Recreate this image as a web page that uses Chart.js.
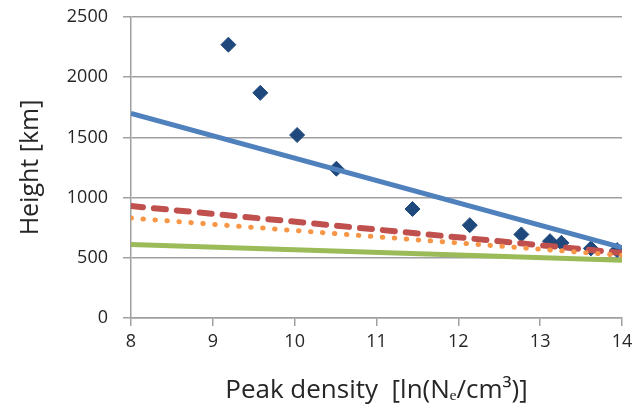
<!DOCTYPE html>
<html>
<head>
<meta charset="utf-8">
<script src="https://cdn.jsdelivr.net/npm/chart.js@4"></script>
<style>
  html, body { margin: 0; padding: 0; background: #fff; }
  #wrap { width: 636px; height: 410px; }
</style>
</head>
<body>
<div id="wrap"><canvas id="heightChart" width="636" height="410"></canvas></div>
<script>
// Measured points
const peakDensity = [9.19, 9.58, 10.03, 10.51, 11.44, 12.14, 12.77, 13.12, 13.26, 13.62, 13.94];
const heightKm = [2270, 1870, 1520, 1240, 905, 771, 694, 638, 624, 578, 564];

// Model lines (end points at x = 8 and x = 14)
const lineX = [8, 14];
const blueFit = [1700, 585];
const redDashed = [930, 540];
const orangeDotted = [830, 520];
const greenFit = [610, 480];

// Axis ticks
const xTicks = [8, 9, 10, 11, 12, 13, 14];
const yTicks = [0, 500, 1000, 1500, 2000, 2500];

function pairs(xs, ys) {
    return xs.map((x, i) => ({ x: x, y: ys[i] }));
}

function lineSet(values, color, width, dash, cap) {
    return {
        type: 'line',
        data: pairs(lineX, values),
        borderColor: color,
        borderWidth: width,
        borderDash: dash,
        borderCapStyle: cap || 'butt',
        pointRadius: 0,
        fill: false,
        tension: 0
    };
}

const ctx = document.getElementById('heightChart').getContext('2d');

const heightChart = new Chart(ctx, {
    type: 'scatter',
    data: {
        datasets: [
            lineSet(greenFit, '#9BBB59', 5, []),
            lineSet(orangeDotted, '#F79646', 5, [0.5, 11.5], 'round'),
            lineSet(redDashed, '#C0504D', 6, [12, 11], 'round'),
            lineSet(blueFit, '#4F81BD', 5, []),
            {
                type: 'scatter',
                data: pairs(peakDensity, heightKm),
                pointStyle: 'rectRot',
                pointRadius: 7.5,
                backgroundColor: '#1F497D',
                borderColor: '#1F497D',
                borderWidth: 1
            }
        ]
    },
    options: {
        responsive: false,
        animation: false,
        layout: { padding: { left: 0, right: 14, top: 17, bottom: 0 } },
        plugins: {
            legend: { display: false },
            tooltip: { enabled: false }
        },
        scales: {
            x: {
                type: 'linear',
                min: 8,
                max: 14,
                afterBuildTicks: (scale) => { scale.ticks = xTicks.map(v => ({ value: v })); },
                afterFit: (scale) => { scale.height = 92; scale.paddingRight = 0; },
                border: { color: '#A0A0A0', width: 1.5 },
                grid: { drawOnChartArea: false, color: '#A0A0A0', tickLength: 8, lineWidth: 1.5 },
                ticks: {
                    color: '#262626',
                    padding: 5,
                    font: { family: 'Open Sans', size: 18 }
                },
                title: {
                    display: true,
                    text: 'Peak density  [ln(N\u2091/cm\u00B3)]',
                    color: '#262626',
                    padding: { top: 14 },
                    font: { family: 'Open Sans', size: 26 }
                }
            },
            y: {
                min: 0,
                max: 2500,
                afterBuildTicks: (scale) => { scale.ticks = yTicks.map(v => ({ value: v })); },
                afterFit: (scale) => { scale.width = 131; scale.paddingTop = 0; },
                border: { color: '#A0A0A0', width: 1.5 },
                grid: { color: '#A0A0A0', tickLength: 8, lineWidth: 1.5 },
                ticks: {
                    color: '#262626',
                    padding: 15,
                    callback: (v) => String(v),
                    font: { family: 'Open Sans', size: 18 }
                },
                title: {
                    display: true,
                    text: 'Height [km]',
                    color: '#262626',
                    padding: { top: 16 },
                    font: { family: 'Open Sans', size: 25 }
                }
            }
        }
    }
});
</script>
</body>
</html>
